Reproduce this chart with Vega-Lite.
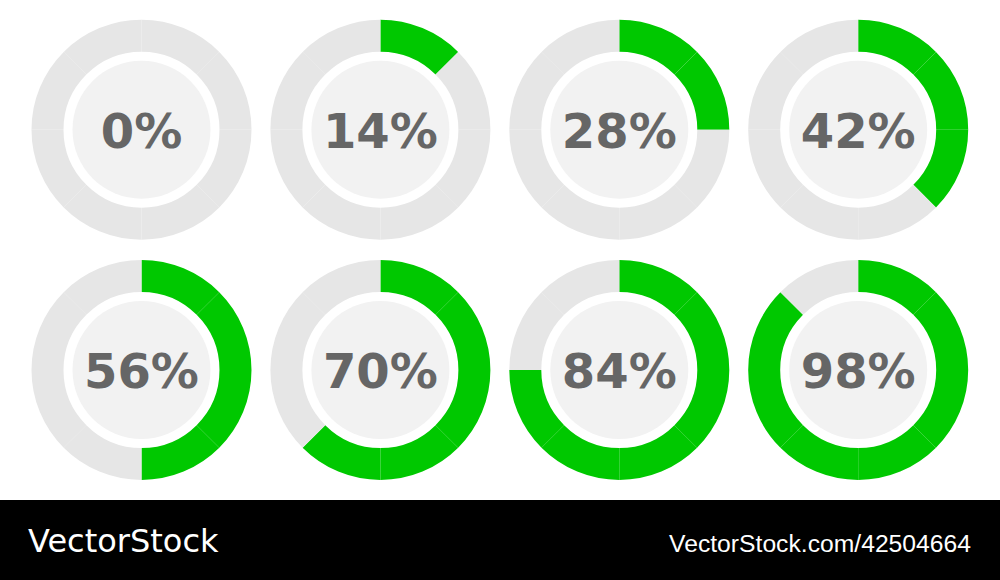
{
  "$schema": "https://vega.github.io/schema/vega-lite/v6.json",
  "padding": 0,
  "background": "#ffffff",
  "spacing": 0,
  "config": {"view": {"stroke": null}},
  "datasets": {
    "donuts": [
      {"label": "0%", "col": 1, "row": 1},
      {"label": "14%", "col": 2, "row": 1},
      {"label": "28%", "col": 3, "row": 1},
      {"label": "42%", "col": 4, "row": 1},
      {"label": "56%", "col": 1, "row": 2},
      {"label": "70%", "col": 2, "row": 2},
      {"label": "84%", "col": 3, "row": 2},
      {"label": "98%", "col": 4, "row": 2}
    ],
    "segments": [
      {"label": "0%", "col": 1, "row": 1, "seg": 0, "segEnd": 1, "state": "off"},
      {"label": "0%", "col": 1, "row": 1, "seg": 1, "segEnd": 2, "state": "off"},
      {"label": "0%", "col": 1, "row": 1, "seg": 2, "segEnd": 3, "state": "off"},
      {"label": "0%", "col": 1, "row": 1, "seg": 3, "segEnd": 4, "state": "off"},
      {"label": "0%", "col": 1, "row": 1, "seg": 4, "segEnd": 5, "state": "off"},
      {"label": "0%", "col": 1, "row": 1, "seg": 5, "segEnd": 6, "state": "off"},
      {"label": "0%", "col": 1, "row": 1, "seg": 6, "segEnd": 7, "state": "off"},
      {"label": "0%", "col": 1, "row": 1, "seg": 7, "segEnd": 8, "state": "off"},
      {"label": "14%", "col": 2, "row": 1, "seg": 0, "segEnd": 1, "state": "on"},
      {"label": "14%", "col": 2, "row": 1, "seg": 1, "segEnd": 2, "state": "off"},
      {"label": "14%", "col": 2, "row": 1, "seg": 2, "segEnd": 3, "state": "off"},
      {"label": "14%", "col": 2, "row": 1, "seg": 3, "segEnd": 4, "state": "off"},
      {"label": "14%", "col": 2, "row": 1, "seg": 4, "segEnd": 5, "state": "off"},
      {"label": "14%", "col": 2, "row": 1, "seg": 5, "segEnd": 6, "state": "off"},
      {"label": "14%", "col": 2, "row": 1, "seg": 6, "segEnd": 7, "state": "off"},
      {"label": "14%", "col": 2, "row": 1, "seg": 7, "segEnd": 8, "state": "off"},
      {"label": "28%", "col": 3, "row": 1, "seg": 0, "segEnd": 1, "state": "on"},
      {"label": "28%", "col": 3, "row": 1, "seg": 1, "segEnd": 2, "state": "on"},
      {"label": "28%", "col": 3, "row": 1, "seg": 2, "segEnd": 3, "state": "off"},
      {"label": "28%", "col": 3, "row": 1, "seg": 3, "segEnd": 4, "state": "off"},
      {"label": "28%", "col": 3, "row": 1, "seg": 4, "segEnd": 5, "state": "off"},
      {"label": "28%", "col": 3, "row": 1, "seg": 5, "segEnd": 6, "state": "off"},
      {"label": "28%", "col": 3, "row": 1, "seg": 6, "segEnd": 7, "state": "off"},
      {"label": "28%", "col": 3, "row": 1, "seg": 7, "segEnd": 8, "state": "off"},
      {"label": "42%", "col": 4, "row": 1, "seg": 0, "segEnd": 1, "state": "on"},
      {"label": "42%", "col": 4, "row": 1, "seg": 1, "segEnd": 2, "state": "on"},
      {"label": "42%", "col": 4, "row": 1, "seg": 2, "segEnd": 3, "state": "on"},
      {"label": "42%", "col": 4, "row": 1, "seg": 3, "segEnd": 4, "state": "off"},
      {"label": "42%", "col": 4, "row": 1, "seg": 4, "segEnd": 5, "state": "off"},
      {"label": "42%", "col": 4, "row": 1, "seg": 5, "segEnd": 6, "state": "off"},
      {"label": "42%", "col": 4, "row": 1, "seg": 6, "segEnd": 7, "state": "off"},
      {"label": "42%", "col": 4, "row": 1, "seg": 7, "segEnd": 8, "state": "off"},
      {"label": "56%", "col": 1, "row": 2, "seg": 0, "segEnd": 1, "state": "on"},
      {"label": "56%", "col": 1, "row": 2, "seg": 1, "segEnd": 2, "state": "on"},
      {"label": "56%", "col": 1, "row": 2, "seg": 2, "segEnd": 3, "state": "on"},
      {"label": "56%", "col": 1, "row": 2, "seg": 3, "segEnd": 4, "state": "on"},
      {"label": "56%", "col": 1, "row": 2, "seg": 4, "segEnd": 5, "state": "off"},
      {"label": "56%", "col": 1, "row": 2, "seg": 5, "segEnd": 6, "state": "off"},
      {"label": "56%", "col": 1, "row": 2, "seg": 6, "segEnd": 7, "state": "off"},
      {"label": "56%", "col": 1, "row": 2, "seg": 7, "segEnd": 8, "state": "off"},
      {"label": "70%", "col": 2, "row": 2, "seg": 0, "segEnd": 1, "state": "on"},
      {"label": "70%", "col": 2, "row": 2, "seg": 1, "segEnd": 2, "state": "on"},
      {"label": "70%", "col": 2, "row": 2, "seg": 2, "segEnd": 3, "state": "on"},
      {"label": "70%", "col": 2, "row": 2, "seg": 3, "segEnd": 4, "state": "on"},
      {"label": "70%", "col": 2, "row": 2, "seg": 4, "segEnd": 5, "state": "on"},
      {"label": "70%", "col": 2, "row": 2, "seg": 5, "segEnd": 6, "state": "off"},
      {"label": "70%", "col": 2, "row": 2, "seg": 6, "segEnd": 7, "state": "off"},
      {"label": "70%", "col": 2, "row": 2, "seg": 7, "segEnd": 8, "state": "off"},
      {"label": "84%", "col": 3, "row": 2, "seg": 0, "segEnd": 1, "state": "on"},
      {"label": "84%", "col": 3, "row": 2, "seg": 1, "segEnd": 2, "state": "on"},
      {"label": "84%", "col": 3, "row": 2, "seg": 2, "segEnd": 3, "state": "on"},
      {"label": "84%", "col": 3, "row": 2, "seg": 3, "segEnd": 4, "state": "on"},
      {"label": "84%", "col": 3, "row": 2, "seg": 4, "segEnd": 5, "state": "on"},
      {"label": "84%", "col": 3, "row": 2, "seg": 5, "segEnd": 6, "state": "on"},
      {"label": "84%", "col": 3, "row": 2, "seg": 6, "segEnd": 7, "state": "off"},
      {"label": "84%", "col": 3, "row": 2, "seg": 7, "segEnd": 8, "state": "off"},
      {"label": "98%", "col": 4, "row": 2, "seg": 0, "segEnd": 1, "state": "on"},
      {"label": "98%", "col": 4, "row": 2, "seg": 1, "segEnd": 2, "state": "on"},
      {"label": "98%", "col": 4, "row": 2, "seg": 2, "segEnd": 3, "state": "on"},
      {"label": "98%", "col": 4, "row": 2, "seg": 3, "segEnd": 4, "state": "on"},
      {"label": "98%", "col": 4, "row": 2, "seg": 4, "segEnd": 5, "state": "on"},
      {"label": "98%", "col": 4, "row": 2, "seg": 5, "segEnd": 6, "state": "on"},
      {"label": "98%", "col": 4, "row": 2, "seg": 6, "segEnd": 7, "state": "on"},
      {"label": "98%", "col": 4, "row": 2, "seg": 7, "segEnd": 8, "state": "off"}
    ],
    "banner": [
      {"side": "left", "label": "VectorStock"},
      {"side": "right", "label": "VectorStock.com/42504664"}
    ]
  },
  "vconcat": [
    {
      "width": 1000,
      "height": 500,
      "encoding": {
        "x": {"field": "col", "type": "quantitative", "axis": null, "scale": {"domain": [0.4077, 4.5936], "nice": false, "zero": false}},
        "y": {"field": "row", "type": "quantitative", "axis": null, "scale": {"domain": [0.4603, 2.541], "nice": false, "zero": false, "reverse": true}}
      },
      "layer": [
        {
          "data": {"name": "segments"},
          "mark": {"type": "arc", "radius": 110, "radius2": 78, "stroke": null},
          "encoding": {
            "theta": {"field": "seg", "type": "quantitative", "scale": {"type": "linear", "domain": [0, 8], "range": [0, 6.283185307], "nice": false, "zero": false}},
            "theta2": {"field": "segEnd"},
            "color": {"field": "state", "type": "nominal", "scale": {"domain": ["on", "off"], "range": ["#00c800", "#e6e6e6"]}, "legend": null}
          }
        },
        {
          "data": {"name": "donuts"},
          "mark": {"type": "circle", "size": 19044, "color": "#f2f2f2", "opacity": 1, "stroke": null}
        },
        {
          "data": {"name": "donuts"},
          "mark": {"type": "text", "font": "DejaVu Sans", "fontWeight": "bold", "fontSize": 48, "color": "#666666", "align": "center", "baseline": "alphabetic", "dy": 18},
          "encoding": {"text": {"field": "label"}}
        }
      ]
    },
    {
      "width": 1000,
      "height": 80,
      "view": {"fill": "#000000", "stroke": null},
      "data": {"name": "banner"},
      "encoding": {
        "x": {"field": "side", "type": "nominal", "axis": null, "scale": {"type": "point", "domain": ["left", "right"], "padding": 0}}
      },
      "layer": [
        {
          "transform": [{"filter": "datum.side === 'left'"}],
          "mark": {"type": "text", "font": "DejaVu Sans", "fontSize": 32, "color": "#ffffff", "align": "left", "baseline": "alphabetic", "dx": 28, "dy": 12},
          "encoding": {"text": {"field": "label"}}
        },
        {
          "transform": [{"filter": "datum.side === 'right'"}],
          "mark": {"type": "text", "font": "Liberation Sans", "fontSize": 24.7, "color": "#ffffff", "align": "right", "baseline": "alphabetic", "dx": -29, "dy": 12},
          "encoding": {"text": {"field": "label"}}
        }
      ]
    }
  ]
}
